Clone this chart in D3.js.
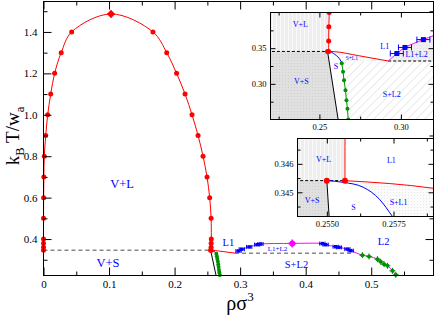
<!DOCTYPE html>
<html>
<head>
<meta charset="utf-8">
<script src="https://cdn.jsdelivr.net/npm/d3@7"></script>
<style>
body { margin: 0; background: #fff; }
svg { display: block; font-family: "Liberation Serif", "Times New Roman", serif; }
</style>
</head>
<body>
<svg id="chart" width="436" height="318"></svg>
<script>
// vapour / liquid binodal (density, temperature)
var vapT   = [0.34541, 0.36, 0.38, 0.40, 0.5, 0.6, 0.7, 0.8, 0.9, 1.0, 1.1, 1.2, 1.3, 1.4];
var vapRho = [0.0, 0.0, 0.0, 0.0, 0.0, 0.0002, 0.0005, 0.0012, 0.0034, 0.0064, 0.011, 0.017, 0.027, 0.043];
var liqT   = [1.4, 1.3, 1.2, 1.1, 1.0, 0.9, 0.8, 0.7, 0.6, 0.5, 0.40, 0.38, 0.36, 0.34541];
var liqRho = [0.167, 0.188, 0.203, 0.216, 0.2266, 0.2358, 0.2434, 0.2495, 0.2535, 0.2557, 0.2560, 0.2558, 0.2557, 0.25568];
var critVL = [0.103, 1.487];

// triple points
var tripleT = 0.34541, tripleRhoS = 0.2550, tripleRhoL = 0.25568;
var triple2T = 0.332, triple2RhoL1 = 0.2922, triple2RhoL2 = 0.471;

// L1 boundary of S+L1 (red)
var l1Rho = [0.25568, 0.259, 0.274, 0.2922];
var l1T   = [0.34541, 0.34514, 0.3395, 0.332];

// solid boundary of S+L1 (blue)
var sRho = [0.2550, 0.25562, 0.25636, 0.25697, 0.25747, 0.2585, 0.2605, 0.2622, 0.2634];
var sT   = [0.34541, 0.34535, 0.34518, 0.34476, 0.34414, 0.3428, 0.3395, 0.3355, 0.331];

// solid boundary of V+S (black)
var vsRho = [0.2550, 0.2615, 0.2633];
var vsT   = [0.34541, 0.25, 0.224];

// solid side of S+L2 (green)
var gsRho = [0.2637, 0.2645, 0.2651, 0.2660, 0.2666, 0.2672, 0.2677, 0.2683, 0.2690];
var gsT   = [0.329, 0.317, 0.305, 0.291, 0.277, 0.265, 0.25, 0.238, 0.226];

// L1-L2 coexistence (blue), critical point (magenta), L2 side of S+L2 (green)
var bl1Rho = [0.2975, 0.3025, 0.3138, 0.326, 0.331];
var bl1T   = [0.3425, 0.351, 0.362, 0.3728, 0.376];
var critLL = [0.3795, 0.379];
var bl2Rho = [0.4254, 0.4304, 0.4457, 0.4508, 0.4636, 0.4687];
var bl2T   = [0.378, 0.3728, 0.363, 0.3597, 0.3515, 0.344];
var gl2Rho = [0.4865, 0.4966, 0.5095, 0.5145, 0.5196, 0.5248, 0.5324, 0.5375];
var gl2T   = [0.3223, 0.316, 0.303, 0.290, 0.2786, 0.271, 0.2466, 0.2272];

// ticks
var mainXMajor = [0, 0.1, 0.2, 0.3, 0.4, 0.5], mainXMinor = [0.05, 0.15, 0.25, 0.35, 0.45, 0.55];
var mainYMajor = [0.4, 0.6, 0.8, 1.0, 1.2, 1.4], mainYMinor = [0.3, 0.5, 0.7, 0.9, 1.1, 1.3, 1.5];
var in1XMajor = [0.25, 0.30], in1XMinor = [0.225, 0.275];
var in1YMajor = [0.30, 0.35], in1YMinor = [0.275, 0.325, 0.375];
var in2XMajor = [0.2550, 0.2575], in2XMinor = [0.25625, 0.25875];
var in2YMajor = [0.345, 0.346], in2YMinor = [0.3445, 0.3455, 0.3465];

var mainLabels = [["V+L", 0.12, 0.670, 12.5], ["V+S", 0.0985, 0.287, 12.5], ["L1", 0.282, 0.384, 10.5],
                  ["L1+L2", 0.357, 0.355, 7], ["S+L2", 0.386, 0.278, 10.5], ["L2", 0.519, 0.3866, 10.5]];
var in1Labels = [["V+L", 0.2383, 0.3834, 8], ["L1", 0.2901, 0.3521, 8], ["L1+L2", 0.3096, 0.3411, 8],
                 ["S+L1", 0.2699, 0.3366, 5.5], ["S", 0.2602, 0.3248, 8], ["V+S", 0.2389, 0.3036, 8], ["S+L2", 0.2944, 0.2848, 8]];
var in2Labels = [["V+L", 0.25488, 0.34615, 8], ["L1", 0.25742, 0.34614, 8], ["V+S", 0.25445, 0.34474, 8],
                 ["S", 0.25600, 0.34449, 8], ["S+L1", 0.25769, 0.34466, 8]];

var RED = "#ff0000", BLUE = "#0000ff", MAG = "#ff00ff", GREEN = "#009000";

function pairs(xs, ys) { return xs.map(function (v, i) { return [v, ys[i]]; }); }

var svg = d3.select("#chart");
var defs = svg.append("defs");

function addPattern(id, w, h, bg) {
	var p = defs.append("pattern").attr("id", id)
		.attr("patternUnits", "userSpaceOnUse")
		.attr("width", w).attr("height", h);
	p.append("rect").attr("width", w).attr("height", h).attr("fill", bg);
	return p;
}
addPattern("pVL", 4, 4, "#eeeeee")
	.append("rect").attr("width", 1).attr("height", 4).attr("fill", "#fafafa");
addPattern("pVS", 3, 3, "#e0e0e0")
	.append("rect").attr("width", 1).attr("height", 1).attr("fill", "#d0d0d0");
addPattern("pSL2", 6, 6, "#ffffff").attr("patternTransform", "rotate(45)")
	.append("line").attr("x1", 0).attr("y1", 0).attr("x2", 0).attr("y2", 6)
	.attr("stroke", "#d4d4d4").attr("stroke-width", 1);
addPattern("pLL", 3, 3, "#efefef")
	.append("rect").attr("width", 1).attr("height", 1).attr("fill", "#e0e0e0");
addPattern("pSL1", 3, 3, "#fbfbfb")
	.append("rect").attr("width", 1).attr("height", 1).attr("fill", "#e8e8e8");

var mainX = d3.scaleLinear().domain([0, 0.595]).range([43.5, 433.5]);
var mainY = d3.scaleLinear().domain([0.224, 1.547]).range([275.5, 1.5]);
var in1X = d3.scaleLinear().domain([0.22, 0.32]).range([270.5, 433.5]);
var in1Y = d3.scaleLinear().domain([0.25, 0.40]).range([119.5, 12.5]);
var in2X = d3.scaleLinear().domain([0.2539, 0.2590]).range([297.5, 433.5]);
var in2Y = d3.scaleLinear().domain([0.34415, 0.34689]).range([216.5, 138.5]);

function clipFor(id, x, y) {
	var xr = x.range(), yr = y.range();
	defs.append("clipPath").attr("id", id).append("rect")
		.attr("x", xr[0]).attr("y", yr[1])
		.attr("width", xr[1] - xr[0]).attr("height", yr[0] - yr[1]);
}

function drawRegions(g, x, y) {
	var poly = d3.line().x(function (d) { return x(d[0]); }).y(function (d) { return y(d[1]); });
	var vl = [[0.1, tripleT], [tripleRhoL, tripleT], [0.2560, 0.5], [0.1, 0.5]];
	var vs = [[0.1, tripleT]].concat(pairs(vsRho, vsT)).concat([[0.1, 0.2]]);
	var sl2 = [[sRho[sRho.length - 1], triple2T]].concat(pairs(gsRho, gsT)).concat([[0.2690, 0.2], [0.4, 0.2], [0.4, triple2T]]);
	var sl1 = [[tripleRhoS, tripleT]].concat(pairs(l1Rho, l1T)).concat(pairs(sRho, sT).reverse());
	var ll = [[triple2RhoL1, triple2T]].concat(pairs(bl1Rho, bl1T)).concat([critLL]).concat(pairs(bl2Rho, bl2T)).concat([[triple2RhoL2, triple2T]]);
	g.append("path").attr("d", poly(vl) + "Z").attr("fill", "url(#pVL)");
	g.append("path").attr("d", poly(vs) + "Z").attr("fill", "url(#pVS)");
	g.append("path").attr("d", poly(sl2) + "Z").attr("fill", "url(#pSL2)");
	g.append("path").attr("d", poly(sl1) + "Z").attr("fill", "url(#pSL1)");
	g.append("path").attr("d", poly(ll) + "Z").attr("fill", "url(#pLL)");
}

function drawPhase(g, x, y, o) {
	var line = d3.line().x(function (d) { return x(d[0]); }).y(function (d) { return y(d[1]); });

	// triple lines
	g.append("path").attr("d", line([[o.inset ? -1 : 0, tripleT], [tripleRhoL, tripleT]]))
		.attr("stroke", o.dash).attr("stroke-width", o.dashW).attr("stroke-dasharray", o.dashArr).attr("fill", "none");
	g.append("path").attr("d", line([[triple2RhoL1, triple2T], [o.inset ? 1 : triple2RhoL2, triple2T]]))
		.attr("stroke", o.dash).attr("stroke-width", o.dashW).attr("stroke-dasharray", o.dashArr).attr("fill", "none");

	var vl = pairs(vapRho, vapT).concat([critVL]).concat(pairs(liqRho, liqT));
	g.append("path").attr("d", line.curve(d3.curveCatmullRom)(vl))
		.attr("stroke", RED).attr("fill", "none").attr("stroke-width", 1);

	var ll = [[triple2RhoL1, triple2T]].concat(pairs(bl1Rho, bl1T)).concat([critLL])
		.concat(pairs(bl2Rho, bl2T)).concat(pairs(gl2Rho, gl2T));
	g.append("path").attr("d", line.curve(d3.curveCatmullRom)(ll))
		.attr("stroke", MAG).attr("fill", "none").attr("stroke-width", 1);

	g.append("path").attr("d", line.curve(d3.curveMonotoneX)(pairs(l1Rho, l1T)))
		.attr("stroke", RED).attr("fill", "none").attr("stroke-width", 1);
	g.append("path").attr("d", line.curve(d3.curveLinear)(pairs(vsRho, vsT)))
		.attr("stroke", "#000").attr("fill", "none").attr("stroke-width", 1);
	g.append("path").attr("d", line.curve(d3.curveMonotoneX)(pairs(sRho, sT)))
		.attr("stroke", BLUE).attr("fill", "none").attr("stroke-width", 1);
	var gs = [[sRho[sRho.length - 1], sT[sT.length - 1]]].concat(pairs(gsRho, gsT));
	g.append("path").attr("d", line.curve(d3.curveLinear)(gs))
		.attr("stroke", GREEN).attr("fill", "none").attr("stroke-width", 1);

	// blue points with horizontal error bars
	var blue = pairs(bl1Rho, bl1T).concat(pairs(bl2Rho, bl2T));
	g.selectAll(null).data(blue).enter().append("path")
		.attr("d", function (d) {
			var xa = x(d[0] - 0.004), xb = x(d[0] + 0.004), yy = y(d[1]), c = o.cap;
			return "M" + xa + "," + yy + "H" + xb + "M" + xa + "," + (yy - c) + "V" + (yy + c) + "M" + xb + "," + (yy - c) + "V" + (yy + c);
		})
		.attr("stroke", BLUE).attr("fill", "none").attr("stroke-width", 1);
	g.selectAll(null).data(blue).enter().append("rect")
		.attr("x", function (d) { return x(d[0]) - o.sq / 2; })
		.attr("y", function (d) { return y(d[1]) - o.sq / 2; })
		.attr("width", o.sq).attr("height", o.sq).attr("fill", BLUE);

	// green points with error bars
	var green = pairs(gsRho, gsT).concat(pairs(gl2Rho, gl2T));
	g.selectAll(null).data(pairs(gl2Rho, gl2T)).enter().append("path")
		.attr("d", function (d) {
			var xx = x(d[0]), yy = y(d[1]), e = o.gErr;
			return "M" + (xx - e) + "," + yy + "H" + (xx + e) + "M" + xx + "," + (yy - e) + "V" + (yy + e);
		})
		.attr("stroke", GREEN).attr("fill", "none").attr("stroke-width", 1);
	g.selectAll(null).data(green).enter().append("circle")
		.attr("cx", function (d) { return x(d[0]); })
		.attr("cy", function (d) { return y(d[1]); })
		.attr("r", o.gr).attr("fill", GREEN);

	// red points
	var red = pairs(vapRho, vapT).concat(pairs(liqRho, liqT)).concat([[tripleRhoS, tripleT]]);
	g.selectAll(null).data(red).enter().append("circle")
		.attr("cx", function (d) { return x(d[0]); })
		.attr("cy", function (d) { return y(d[1]); })
		.attr("r", o.r).attr("fill", RED);

	// critical points
	[[critVL, RED], [critLL, MAG]].forEach(function (c) {
		var xx = x(c[0][0]), yy = y(c[0][1]);
		g.append("path").attr("d", "M" + (xx - 4) + "," + yy + "H" + (xx + 4) + "M" + xx + "," + (yy - 4) + "V" + (yy + 4))
			.attr("stroke", c[1]).attr("stroke-width", 1.5).attr("fill", "none");
		g.append("circle").attr("cx", xx).attr("cy", yy).attr("r", 3).attr("fill", c[1]);
	});
}

function drawLabels(g, x, y, labels) {
	g.selectAll(null).data(labels).enter().append("text")
		.attr("x", function (d) { return x(d[1]); })
		.attr("y", function (d) { return y(d[2]); })
		.attr("dy", "0.35em")
		.attr("text-anchor", "middle")
		.attr("font-size", function (d) { return d[3]; })
		.attr("fill", BLUE)
		.text(function (d) { return d[0]; });
}

function drawAxes(g, x, y, o) {
	var xr = x.range(), yr = y.range();
	function put(axisFn, scale, vals, len, fmt, tx, ty) {
		if (!vals.length) return;
		var a = axisFn(scale).tickValues(vals).tickSize(-len).tickSizeOuter(0).tickPadding(axisFn === d3.axisLeft ? o.padY : o.padX)
			.tickFormat(fmt ? fmt : function () { return ""; });
		var ag = g.append("g").attr("transform", "translate(" + tx + "," + ty + ")").call(a);
		ag.attr("font-family", null).attr("font-size", o.fs);
		ag.select(".domain").remove();
		ag.selectAll("text").attr("fill", "#000");
	}
	put(d3.axisBottom, x, o.xMajor, o.big, o.xFmt, 0, yr[0]);
	put(d3.axisBottom, x, o.xMinor, o.small, null, 0, yr[0]);
	put(d3.axisTop, x, o.xMajor, o.big, null, 0, yr[1]);
	put(d3.axisTop, x, o.xMinor, o.small, null, 0, yr[1]);
	put(d3.axisLeft, y, o.yMajor, o.big, o.yFmt, xr[0], 0);
	put(d3.axisLeft, y, o.yMinor, o.small, null, xr[0], 0);
	put(d3.axisRight, y, o.yMajor, o.big, null, xr[1], 0);
	put(d3.axisRight, y, o.yMinor, o.small, null, xr[1], 0);
	g.append("rect").attr("x", xr[0]).attr("y", yr[1])
		.attr("width", xr[1] - xr[0]).attr("height", yr[0] - yr[1])
		.attr("fill", "none").attr("stroke", "#000").attr("stroke-width", 1);
}

// ---- main plot
var mainBody = svg.append("g");
drawAxes(svg.append("g"), mainX, mainY, {
	xMajor: mainXMajor, xMinor: mainXMinor, yMajor: mainYMajor, yMinor: mainYMinor,
	xFmt: function (d) { return d === 0 ? "0" : d3.format(".1f")(d); },
	yFmt: d3.format(".1f"), big: 8, small: 4, fs: 11, padX: 5, padY: 6
});
drawPhase(mainBody, mainX, mainY, { dash: "#888", dashW: 1.5, dashArr: "4,3", r: 2.5, sq: 3.5, cap: 2, gr: 2, gErr: 3, inset: false });
drawLabels(svg.append("g"), mainX, mainY, mainLabels);

// axis titles
var yTitle = svg.append("text").attr("transform", "translate(19,136) rotate(-90)")
	.attr("text-anchor", "middle").attr("font-size", 19);
yTitle.append("tspan").text("k");
yTitle.append("tspan").attr("font-size", 12.5).attr("dy", 5).text("B");
yTitle.append("tspan").attr("dy", -5).text(" T/w");
yTitle.append("tspan").attr("font-size", 12.5).attr("dy", 5).text("a");

var xTitle = svg.append("text").attr("x", 240).attr("y", 310)
	.attr("text-anchor", "middle").attr("font-size", 20);
xTitle.append("tspan").text("ρσ");
xTitle.append("tspan").attr("font-size", 13).attr("dy", -9).text("3");

// ---- insets
function inset(id, x, y, labels, axOpt, r) {
	var xr = x.range(), yr = y.range();
	clipFor(id, x, y);
	var g = svg.append("g");
	g.append("rect").attr("x", xr[0]).attr("y", yr[1])
		.attr("width", xr[1] - xr[0]).attr("height", yr[0] - yr[1]).attr("fill", "#fff");
	var body = g.append("g").attr("clip-path", "url(#" + id + ")");
	drawRegions(body, x, y);
	drawPhase(body, x, y, { dash: "#000", dashW: 1, dashArr: "3,2", r: r, sq: 5, cap: 3, gr: 2, gErr: 3, inset: true });
	drawLabels(body, x, y, labels);
	drawAxes(g, x, y, axOpt);
}

inset("clipIn1", in1X, in1Y, in1Labels, {
	xMajor: in1XMajor, xMinor: in1XMinor, yMajor: in1YMajor, yMinor: in1YMinor,
	xFmt: d3.format(".2f"), yFmt: d3.format(".2f"), big: 5, small: 3, fs: 8.5, padX: 4, padY: 4
}, 2.5);

inset("clipIn2", in2X, in2Y, in2Labels, {
	xMajor: in2XMajor, xMinor: in2XMinor, yMajor: in2YMajor, yMinor: in2YMinor,
	xFmt: d3.format(".4f"), yFmt: d3.format(".3f"), big: 5, small: 3, fs: 8.5, padX: 4, padY: 4
}, 3);
</script>
</body>
</html>
